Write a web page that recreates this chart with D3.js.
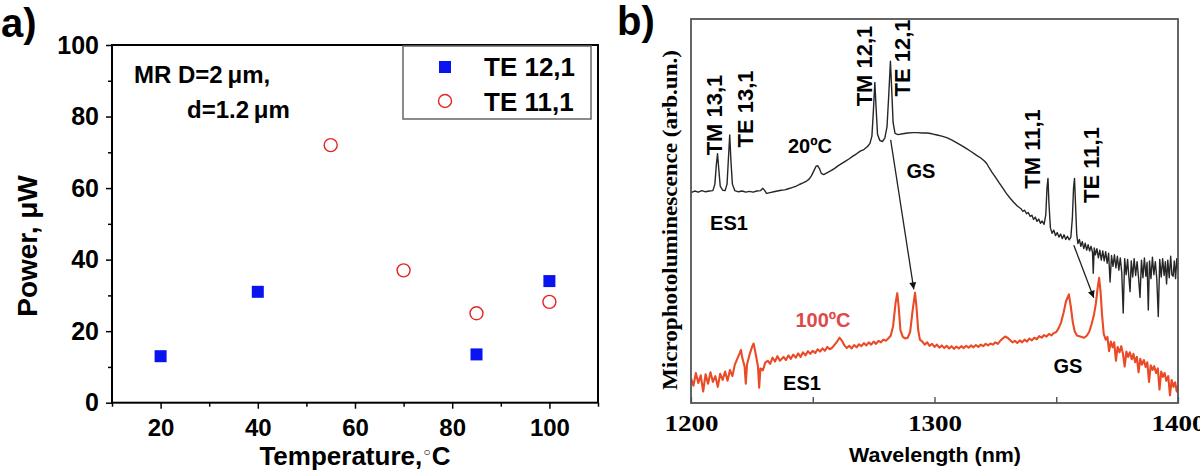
<!DOCTYPE html>
<html><head><meta charset="utf-8">
<script src="https://cdn.jsdelivr.net/npm/d3@7"></script>
<style>
body{margin:0;background:#fff}
svg{display:block}
text{font-family:"Liberation Sans",Arial,sans-serif;font-weight:bold;fill:#000}
.serif{font-family:"Liberation Serif","Times New Roman",serif}
</style>
</head><body>
<svg id="chart" width="1200" height="474"></svg>
<script>
// ---------- data: panel a ----------
const tempTE121 = [20, 40, 85, 100];
const powerTE121 = [13, 31, 13.5, 34];
const tempTE111 = [55, 70, 85, 100];
const powerTE111 = [72, 37, 25, 28.2];
const tempTicks = [20, 40, 60, 80, 100];
const tempMinorTicks = [10, 30, 50, 70, 90, 110];
const powerTicks = [0, 20, 40, 60, 80, 100];
const powerMinorTicks = [10, 30, 50, 70, 90];
const legendNames = ["TE 12,1", "TE 11,1"];

// ---------- data: panel b (wavelength nm, intensity arb.) ----------
const wavelengthTicks = [1200, 1250, 1300, 1350, 1400];
const wavelengthLabels = [1200, 1300, 1400];
const spectrum20C = [
[1200,54.8],[1201.5,55.2],[1203,54.9],[1204.5,55.3],[1206,55.0],[1207.5,55.2],[1209,55.3],[1209.8,57],[1210.4,62],[1210.9,64.9],[1211.4,61],[1212,56.5],[1213,55.4],[1214,55.3],[1214.8,57],[1215.4,64],[1215.9,69.8],[1216.4,63],[1217,57],[1218,55.3],
[1219.5,55.0],[1221,55.2],[1222.5,54.9],[1224,55.1],[1225.5,54.9],[1227,55.2],[1228.5,55.3],[1229.5,55.9],[1230.3,55.3],[1231,54.6],[1232.5,54.8],[1234,55.0],[1235.5,55.2],[1237,55.4],[1238.5,55.5],[1240,55.8],[1241.5,56.1],[1243,56.4],[1244.5,56.9],[1246,57.3],
[1247.5,57.8],[1248.5,58.3],[1249.5,59.2],[1250.5,60.5],[1251.3,61.6],[1252,61.8],[1252.8,61],[1253.5,59.8],[1254.5,59.5],[1256,60.0],[1257.5,60.5],[1259,61.1],[1260.5,61.8],[1262,62.4],[1263.5,63.0],[1265,63.6],[1266.5,64.3],[1268,64.9],[1269.5,65.6],[1271,66.0],
[1272.5,66.8],[1273.5,67.6],[1274.3,69.5],[1274.9,76],[1275.5,83.5],[1276,77],[1276.6,70],[1277.5,68.4],[1278.6,68.1],[1279.6,69.0],[1280.5,72],[1281.2,80],[1281.9,89],[1282.4,82],[1283,73],[1283.8,70.2],[1285,69.9],[1287,70.1],[1289,70.3],[1291,70.4],
[1293,70.4],[1295,70.3],[1297,70.3],[1299,70.1],[1301,69.8],[1303,69.5],[1305,69.1],[1307,68.5],[1309,67.8],[1311,67.1],[1313,66.3],[1315,65.5],[1317,64.6],[1319,63.8],[1320.5,63.0],[1321.5,62.3],[1322.5,61.2],[1323.5,60.2],[1325,58.8],[1326.5,57.4],
[1328,56.0],[1329.5,54.6],[1331,53.4],[1332.5,52.3],[1334,51.3],[1335.5,50.6],[1336.3,49.9],[1337,50.2],[1337.8,49.3],[1338.5,49.6],[1339.3,48.6],[1340,48.9],[1340.7,47.8],[1341.4,48.4],[1342.1,47.3],[1342.8,47.9],[1343.5,46.8],[1344.2,47.4],[1345,46.5],[1345.7,49],
[1346.2,56],[1346.6,58.5],[1347,52],[1347.6,45.6],[1348.3,44.2],[1349,45.0],[1349.7,43.6],[1350.4,44.4],[1351.1,43.2],[1351.8,44.0],[1352.5,42.8],[1353.2,43.8],[1353.9,42.6],[1354.6,43.4],[1355.3,42.5],[1356,43.2],[1356.6,48],[1357.1,56],[1357.5,58.5],[1357.9,52],
[1358.4,44],[1358.9,41.5],[1359.5,42.6],[1360.1,40.8],[1360.7,42.0],[1361.3,40.2],[1361.9,41.6],[1362.5,39.8],[1363.1,41.2],[1363.7,39.6],[1364.3,40.8],[1364.9,39.2],[1365.2,33.8],[1365.6,40.4],[1366.1,38.6],[1366.7,40.2],[1367.3,37.8],[1367.9,39.8],[1368.5,37.2],[1369.1,39.6],
[1369.7,37.0],[1370.3,39.4],[1370.9,36.4],[1371.5,39.0],[1372.1,31.5],[1372.7,38.4],[1373.3,35.6],[1373.9,38.6],[1374.5,35.2],[1375.1,38.2],[1375.7,34.6],[1376.3,37.8],[1376.9,34.0],[1377.5,23.4],[1378.1,37.6],[1378.7,33.4],[1379.3,37.4],[1379.8,33.0],[1380.3,29.0],[1380.8,37.0],
[1381.4,32.8],[1382.0,37.6],[1382.6,33.2],[1383.2,36.8],[1383.8,32.6],[1384.4,27.5],[1385.0,37.2],[1385.6,32.6],[1386.2,37.8],[1386.8,33.0],[1387.3,36.6],[1387.8,24.2],[1388.3,37.0],[1388.9,32.4],[1389.5,38.0],[1390.1,33.4],[1390.7,36.8],[1391.3,32.2],[1391.9,22.5],[1392.5,37.4],
[1393.1,32.8],[1393.7,37.6],[1394.3,33.2],[1394.8,36.8],[1395.3,31.0],[1395.8,37.2],[1396.4,32.6],[1397.0,38.2],[1397.5,33.4],[1398.0,33.0],[1398.5,37.0],[1399.0,32.4],[1399.5,37.6],[1400,34.5]
];
const spectrum100C = [
[1200,6.4],[1201,4.5],[1202,7.8],[1203,5.2],[1204,7.2],[1205,3.0],[1206,7.5],[1207,5.0],[1208,8.0],[1209,5.5],[1210,7.0],[1211,4.2],[1212,7.6],[1213,6.0],[1214,8.2],[1215,5.8],[1216,8.6],[1217,7.0],[1218,10.0],[1219,11.5],
[1220,13.0],[1220.5,13.8],[1221,12.0],[1222,9.5],[1222.5,5.0],[1223,10.0],[1224,12.5],[1225,14.5],[1225.7,15.5],[1226.5,13.0],[1227.5,9.5],[1228,4.0],[1228.5,9.0],[1229.5,8.5],[1230.5,10.5],[1231.5,11.0],[1232.5,10.2],[1233.5,11.8],[1234.5,10.8],[1235.5,12.2],
[1236.5,11.0],[1238,12.0],[1239,11.2],[1240,12.4],[1241,11.5],[1242,12.6],[1243,11.8],[1244,12.9],[1245,12.0],[1246,13.2],[1247,12.4],[1248,13.5],[1249,12.8],[1250,13.6],[1251,13.0],[1252,14.0],[1253,13.4],[1254,14.2],[1255,13.6],[1256,14.6],
[1257,14.0],[1258,14.4],[1259,15.2],[1260,16.0],[1261,17.0],[1262,16.2],[1263,15.0],[1264,14.3],[1265,14.9],[1266,14.2],[1267,15.1],[1268,14.5],[1269,15.3],[1270,14.8],[1271,15.6],[1272,15.0],[1273,15.8],[1274,15.2],[1275,16.0],[1276,15.4],
[1277,16.2],[1278,15.8],[1279,16.5],[1280,16.2],[1281,16.8],[1282,17.5],[1283,20],[1284,26],[1284.7,28.6],[1285.3,25],[1286,19],[1287,17.2],[1288,16.8],[1289,17.0],[1290,18.5],[1291,24],[1292,28.7],[1292.6,25],[1293.3,19],[1294,16.5],
[1295,16.0],[1296,15.2],[1297,15.8],[1298,14.9],[1299,15.4],[1300,14.6],[1301,15.2],[1302,14.4],[1303,15.0],[1304,14.3],[1305,14.9],[1306,14.2],[1307,14.8],[1308,14.1],[1309,14.7],[1310,14.2],[1311,14.8],[1312,14.3],[1313,14.9],[1314,14.4],
[1315,15.0],[1316,14.5],[1317,15.1],[1318,14.6],[1319,15.2],[1320,14.8],[1321,15.4],[1322,15.0],[1323,15.5],[1324,15.2],[1325,15.8],[1326,15.4],[1327,16.2],[1328,16.8],[1329,17.3],[1330,17.0],[1331,16.4],[1332,15.8],[1333,16.2],[1334,15.6],
[1335,16.3],[1336,15.8],[1337,16.5],[1338,16.0],[1339,16.8],[1340,16.3],[1341,17.0],[1342,16.6],[1343,17.4],[1344,17.0],[1345,17.7],[1346,17.3],[1347,18.0],[1348,17.6],[1349,18.2],[1350,18.5],[1351,19.5],[1352,21],[1353,23.5],[1354,26.5],
[1355.2,28.3],[1356,25],[1356.8,21],[1357.6,18.6],[1358.5,17.6],[1359.5,17.4],[1360.5,17.2],[1361.5,17.0],[1362.5,17.5],[1363.5,18.5],[1364.5,20.5],[1365.5,23],[1366.3,26],[1367,30],[1367.6,32.6],[1368.2,29],[1368.8,23],[1369.5,18.0],[1370.3,16.5],[1371,17.2],
[1371.7,13.5],[1372.4,16.0],[1373.1,14.5],[1373.8,15.8],[1374.5,11.0],[1375.2,14.6],[1376,13.2],[1376.7,14.8],[1377.4,12.8],[1378.1,9.5],[1378.8,13.4],[1379.5,12.0],[1380.2,13.2],[1381,11.4],[1381.7,12.8],[1382.4,10.6],[1383.1,12.0],[1383.8,8.0],[1384.5,11.5],[1385.2,10.0],
[1386,11.2],[1386.7,9.4],[1387.4,10.6],[1388.1,5.5],[1388.8,9.8],[1389.5,8.6],[1390.2,9.6],[1391,7.8],[1391.7,9.0],[1392.4,3.5],[1393.1,8.2],[1393.8,6.8],[1394.5,7.8],[1395.2,5.8],[1396,7.0],[1396.7,2.0],[1397.4,6.0],[1398.1,4.2],[1398.8,5.4],[1399.5,3.0],[1400,4.5]
];
// arrows: [fromWavelength, fromIntensity, toWavelength, toIntensity]
const shiftArrows = [[1282, 68.5, 1291.5, 29.6], [1357.2, 41.1, 1365.4, 27.4]];

// ---------- drawing ----------
const svg = d3.select("#chart");
const defs = svg.append("defs");
defs.append("marker").attr("id","head").attr("viewBox","0 0 10 10")
  .attr("refX",10).attr("refY",5).attr("markerWidth",9).attr("markerHeight",7)
  .attr("markerUnits","userSpaceOnUse").attr("orient","auto")
  .append("path").attr("d","M0,0 L10,5 L0,10 Z").attr("fill","#111");

// ===== Panel a =====
const xa = d3.scaleLinear().domain([10,110]).range([112,598]);
const ya = d3.scaleLinear().domain([0,100]).range([402.7,45]);
const ga = svg.append("g");

function styleAxis(g){ g.select(".domain").remove(); g.selectAll("line").attr("stroke","#000").attr("stroke-width",1.5); }

ga.append("g").attr("transform",`translate(0,${ya(0)})`)
  .call(d3.axisBottom(xa).tickValues(tempTicks).tickSize(6).tickPadding(10))
  .call(styleAxis).selectAll("text").style("font-size","24px").style("font-family","'Liberation Sans',Arial,sans-serif").style("font-weight","bold");
ga.append("g").attr("transform",`translate(0,${ya(0)})`)
  .call(d3.axisBottom(xa).tickValues(tempMinorTicks).tickSize(4).tickFormat(""))
  .call(styleAxis);
ga.append("g").attr("transform",`translate(${xa(10)},0)`)
  .call(d3.axisLeft(ya).tickValues(powerTicks).tickSize(6).tickPadding(7))
  .call(styleAxis).selectAll("text").style("font-size","25px").style("font-family","'Liberation Sans',Arial,sans-serif").style("font-weight","bold");
ga.append("g").attr("transform",`translate(${xa(10)},0)`)
  .call(d3.axisLeft(ya).tickValues(powerMinorTicks).tickSize(4).tickFormat(""))
  .call(styleAxis);

ga.append("rect").attr("x",xa(10)).attr("y",ya(100)).attr("width",xa(110)-xa(10)).attr("height",ya(0)-ya(100))
  .attr("fill","none").attr("stroke","#000").attr("stroke-width",2);

// points
const sq = 12;
ga.selectAll("rect.te121").data(tempTE121.map((t,i)=>[t,powerTE121[i]])).join("rect")
  .attr("class","te121").attr("x",d=>xa(d[0])-sq/2).attr("y",d=>ya(d[1])-sq/2)
  .attr("width",sq).attr("height",sq).attr("fill","#0a14f0");
ga.selectAll("circle.te111").data(tempTE111.map((t,i)=>[t,powerTE111[i]])).join("circle")
  .attr("class","te111").attr("cx",d=>xa(d[0])).attr("cy",d=>ya(d[1])).attr("r",6.5)
  .attr("fill","none").attr("stroke","#e42421").attr("stroke-width",1.4);

// legend
ga.append("rect").attr("x",403).attr("y",46).attr("width",188).attr("height",73)
  .attr("fill","#fff").attr("stroke","#666").attr("stroke-width",1.5);
ga.append("rect").attr("x",445-sq/2).attr("y",67-sq/2).attr("width",sq).attr("height",sq).attr("fill","#0a14f0");
ga.append("circle").attr("cx",445).attr("cy",101).attr("r",6.5).attr("fill","none").attr("stroke","#e42421").attr("stroke-width",1.4);
ga.append("text").attr("x",484).attr("y",75.5).style("font-size","26px").text(legendNames[0]);
ga.append("text").attr("x",484).attr("y",110.5).style("font-size","26px").text(legendNames[1]);

// annotations
ga.append("text").attr("x",134).attr("y",83).style("font-size","24px").text("MR D=2\u2009\u03bcm,");
ga.append("text").attr("x",187).attr("y",118).style("font-size","24px").text("d=1.2\u2009\u03bcm");

// axis titles
const xt = ga.append("text").attr("x",355).attr("y",465).attr("text-anchor","middle").style("font-size","26px");
xt.append("tspan").text("Temperature,");
xt.append("tspan").style("font-size","15px").attr("dy","-7").attr("font-family","DejaVu Sans").text("\u25e6");
xt.append("tspan").attr("dy","7").text("C");
ga.append("text").attr("transform","translate(37,246) rotate(-90)").attr("text-anchor","middle")
  .style("font-size","28px").text("Power, \u03bcW");
ga.append("text").attr("x",1).attr("y",37).style("font-size","40px").text("a)");

// ===== Panel b =====
const xb = d3.scaleLinear().domain([1200,1400]).range([691,1178]);
const yb = d3.scaleLinear().domain([0,100]).range([403,19]);
const gb = svg.append("g");
defs.append("clipPath").attr("id","clipb").append("rect")
  .attr("x",xb(1200)).attr("y",yb(100)).attr("width",xb(1400)-xb(1200)).attr("height",yb(0)-yb(100));

const line = d3.line().x(d=>xb(d[0])).y(d=>yb(d[1]));
gb.append("path").datum(spectrum100C).attr("d",line).attr("clip-path","url(#clipb)")
  .attr("fill","none").attr("stroke","#ea4a26").attr("stroke-width",2.1).attr("stroke-linejoin","round");
gb.append("path").datum(spectrum20C).attr("d",line).attr("clip-path","url(#clipb)")
  .attr("fill","none").attr("stroke","#262626").attr("stroke-width",1.4).attr("stroke-linejoin","round");

// arrows
gb.selectAll("line.arrow").data(shiftArrows).join("line").attr("class","arrow")
  .attr("x1",d=>xb(d[0])).attr("y1",d=>yb(d[1])).attr("x2",d=>xb(d[2])).attr("y2",d=>yb(d[3]))
  .attr("stroke","#222").attr("stroke-width",1.3).attr("marker-end","url(#head)");

// frame and axis
gb.append("g").attr("transform",`translate(0,${yb(0)})`)
  .call(d3.axisBottom(xb).tickValues(wavelengthTicks).tickSize(-6).tickPadding(12)
    .tickFormat(d=>wavelengthLabels.includes(d)?String(d):""))
  .call(g=>{ g.select(".domain").remove(); g.selectAll("line").attr("stroke","#444").attr("stroke-width",1.3); })
  .selectAll("text").attr("class","serif").style("font-size","23px")
    .style("font-family","'Liberation Serif','Times New Roman',serif").style("font-weight","bold")
    .attr("textLength",d=>wavelengthLabels.includes(d)?54:null).attr("lengthAdjust","spacingAndGlyphs");
gb.append("rect").attr("x",xb(1200)).attr("y",yb(100)).attr("width",xb(1400)-xb(1200)).attr("height",yb(0)-yb(100))
  .attr("fill","none").attr("stroke","#555").attr("stroke-width",1.8);

gb.append("text").attr("x",935).attr("y",462).attr("text-anchor","middle").style("font-size","21px")
  .attr("textLength",172).attr("lengthAdjust","spacingAndGlyphs").text("Wavelength (nm)");
gb.append("text").attr("class","serif").attr("transform","translate(677,220) rotate(-90)").attr("text-anchor","middle")
  .style("font-size","20px").attr("textLength",340).attr("lengthAdjust","spacingAndGlyphs")
  .text("Microphotoluminescence (arb.un.)");
gb.append("text").attr("x",617).attr("y",35).style("font-size","40px").text("b)");

// mode labels (rotated)
const modeLabels = [["TM 13,1",722,115],["TE 13,1",753,109],["TM 12,1",872,66],["TE 12,1",910,58],["TM 11,1",1040,149],["TE 11,1",1099,165]];
gb.selectAll("text.mode").data(modeLabels).join("text").attr("class","mode")
  .attr("transform",d=>`translate(${d[1]},${d[2]}) rotate(-90)`).attr("text-anchor","middle")
  .style("font-size","22px").text(d=>d[0]);
const plainLabels = [["20ºC",810,153,"#000"],["ES1",729,230,"#000"],["GS",921,178,"#000"],["100ºC",823,327,"#dd4a4a"],["ES1",802,390,"#000"],["GS",1068,373,"#000"]];
gb.selectAll("text.plain").data(plainLabels).join("text").attr("class","plain")
  .attr("x",d=>d[1]).attr("y",d=>d[2]).attr("text-anchor","middle").style("font-size","20px")
  .style("fill",d=>d[3]).text(d=>d[0]);
</script>
</body></html>
